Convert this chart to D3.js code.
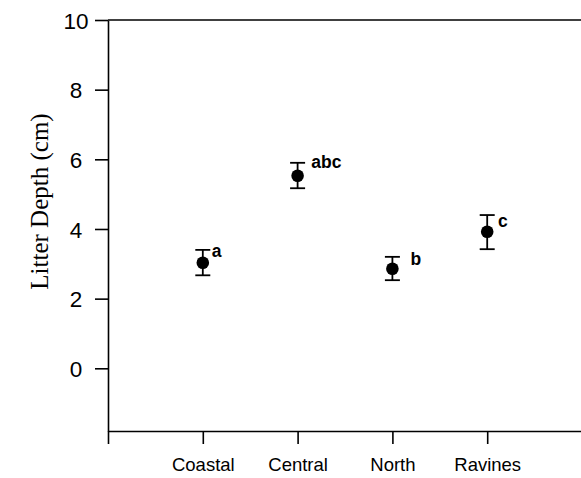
<!DOCTYPE html>
<html>
<head>
<meta charset="utf-8">
<script src="https://cdn.jsdelivr.net/npm/d3@7"></script>
<style>
  html, body { margin: 0; padding: 0; background: #fff; }
  svg { display: block; }
</style>
</head>
<body>
<svg id="chart" width="581" height="478"></svg>
<script>
// ---- data ----
const categories = ["Coastal", "Central", "North", "Ravines"];
const means      = [3.03, 5.53, 2.86, 3.92];
const upper      = [3.40, 5.90, 3.20, 4.40];
const lower      = [2.67, 5.17, 2.53, 3.42];
const letters    = ["a", "abc", "b", "c"];
const letterX    = [1.095, 2.145, 3.19, 4.115];   // in category units
const letterY    = [3.20, 5.75, 2.97, 4.06];      // in data units (baseline)
const yTicks     = [0, 2, 4, 6, 8, 10];
const xTickPos   = [0, 1, 2, 3, 4];
const yTitle     = "Litter Depth (cm)";

// ---- layout ----
const svg = d3.select("#chart");
const mLeft = 108, mRight = 582, mTop = 20, mBottom = 431;

const x = d3.scaleLinear().domain([0, 5]).range([mLeft, mRight]);
const y = d3.scaleLinear().domain([-1.8, 10]).range([mBottom, mTop]);

const ink = "#000";

// top frame line
svg.append("line")
  .attr("x1", mLeft).attr("x2", 581).attr("y1", mTop).attr("y2", mTop)
  .attr("stroke", ink).attr("stroke-width", 1.6);

// y axis
const yAxis = d3.axisLeft(y).tickValues(yTicks).tickSize(13).tickSizeOuter(0)
  .tickFormat(d3.format("d"));
const gy = svg.append("g").attr("transform", `translate(${mLeft},0)`).call(yAxis);
gy.select(".domain").attr("stroke", ink).attr("stroke-width", 1.6);
gy.selectAll(".tick line").attr("stroke", ink).attr("stroke-width", 1.6);
gy.selectAll(".tick text")
  .attr("x", -32).attr("text-anchor", "middle").attr("dy", "0.36em")
  .attr("font-family", "Liberation Sans, Arial, sans-serif")
  .attr("font-size", 22.5).attr("fill", ink);

// x axis
const xAxis = d3.axisBottom(x).tickValues(xTickPos).tickSize(13).tickSizeOuter(0)
  .tickFormat(d => categories[d - 1] || "");
const gx = svg.append("g").attr("transform", `translate(0,${mBottom})`).call(xAxis);
gx.select(".domain").attr("stroke", ink).attr("stroke-width", 1.6);
gx.selectAll(".tick line").attr("stroke", ink).attr("stroke-width", 1.6);
gx.selectAll(".tick text")
  .attr("y", 40).attr("dy", 0)
  .attr("font-family", "Liberation Sans, Arial, sans-serif")
  .attr("font-size", 18.5).attr("fill", ink);

// y title
svg.append("text")
  .attr("transform", `translate(48,${(mTop + mBottom) / 2 - 24}) rotate(-90)`)
  .attr("text-anchor", "middle")
  .attr("font-family", "Liberation Serif, Times New Roman, serif")
  .attr("font-size", 25).attr("fill", ink)
  .text(yTitle);

// error bars and points
const capHalf = 7.5;
const g = svg.append("g");
categories.forEach((c, i) => {
  const cx = x(i + 1);
  g.append("line")
    .attr("x1", cx).attr("x2", cx).attr("y1", y(upper[i])).attr("y2", y(lower[i]))
    .attr("stroke", ink).attr("stroke-width", 1.8);
  [upper[i], lower[i]].forEach(v => {
    g.append("line")
      .attr("x1", cx - capHalf).attr("x2", cx + capHalf).attr("y1", y(v)).attr("y2", y(v))
      .attr("stroke", ink).attr("stroke-width", 1.8);
  });
  g.append("circle")
    .attr("cx", cx).attr("cy", y(means[i])).attr("r", 6.3).attr("fill", ink);
  g.append("text")
    .attr("x", x(letterX[i])).attr("y", y(letterY[i]))
    .attr("font-family", "Liberation Sans, Arial, sans-serif")
    .attr("font-weight", "bold").attr("font-size", 17.5).attr("fill", ink)
    .text(letters[i]);
});
</script>
</body>
</html>
